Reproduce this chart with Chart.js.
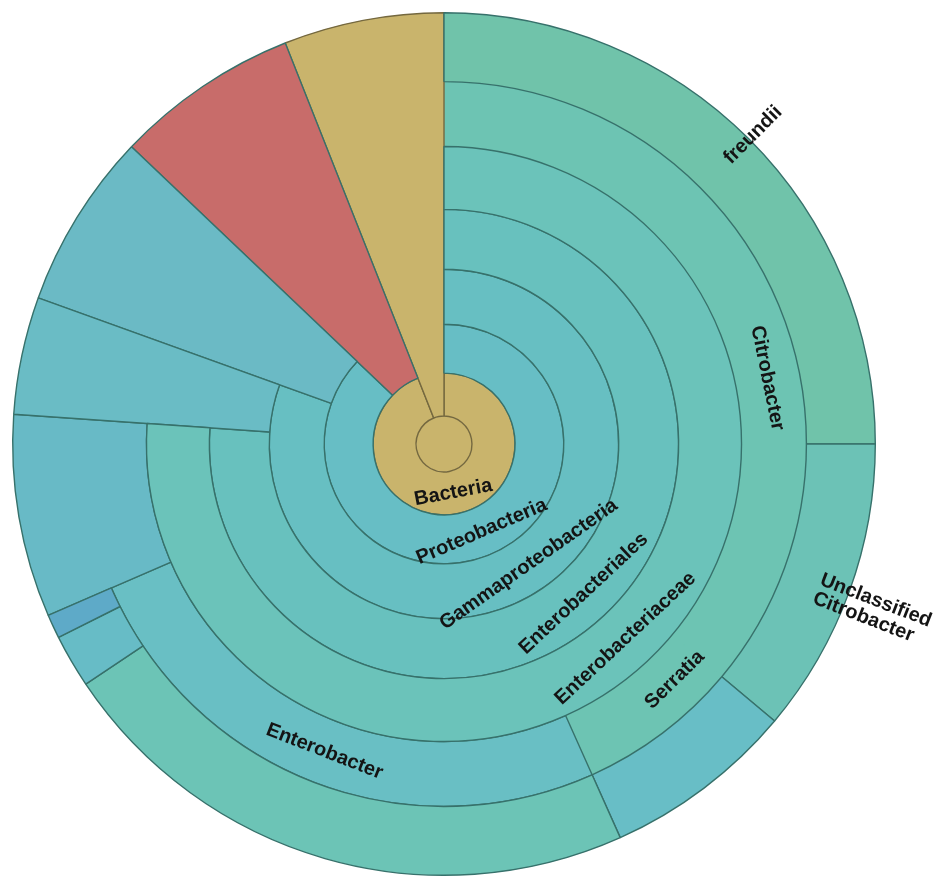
<!DOCTYPE html>
<html>
<head>
<meta charset="utf-8">
<title>Taxonomic composition</title>
<script src="https://cdn.jsdelivr.net/npm/chart.js@4.4.1/dist/chart.umd.min.js"></script>
<style>
  html, body { margin: 0; padding: 0; background: #fff; }
  canvas { display: block; }
</style>
</head>
<body>
<canvas id="sunburst" width="941" height="879"></canvas>
<script>
// Share of reads (%) per taxon, one list per rank. Children are listed first and
// in their parents' order; what a rank leaves over stays open, so a leaf from the
// rank inside it can run straight through to the rim.
const rootNames = ['Root'];
const rootValues = [100];
const kingdomNames = ['Bacteria', 'Unassigned'];
const kingdomValues = [94.0, 6.0];
const phylumNames = ['Proteobacteria', 'Other phyla'];
const phylumValues = [87.1, 6.9];
const classNames = ['Gammaproteobacteria', 'Other Proteobacteria'];
const classValues = [80.5, 6.6];
const orderNames = ['Enterobacteriales', 'Other Gammaproteobacteria'];
const orderValues = [76.1, 4.4];
const familyNames = ['Enterobacteriaceae'];
const familyValues = [76.1];
const genusNames = ['Citrobacter', 'Serratia', 'Enterobacter', 'Other Enterobacteriaceae'];
const genusValues = [36.1, 7.2, 25.2, 7.6];
const speciesNames = ['freundii', 'Unclassified Citrobacter', 'Serratia sp.', 'Enterobacter sp.', 'Enterobacter sp. B', 'Enterobacter sp. C'];
const speciesValues = [25.0, 11.1, 7.2, 22.3, 2.0, 0.9];

// names printed on the wheel
const shownNames = ['Bacteria', 'Proteobacteria', 'Gammaproteobacteria', 'Enterobacteriales',
  'Enterobacteriaceae', 'Citrobacter', 'Serratia', 'Enterobacter', 'freundii', 'Unclassified Citrobacter'];

// ---- styling ----
const TAN = '#c9b46c';
const fills = {
  'Root': TAN, 'Bacteria': TAN, 'Unassigned': TAN,
  'Proteobacteria': '#67bec5', 'Other phyla': '#c86c6a',
  'Gammaproteobacteria': '#67bfc2', 'Other Proteobacteria': '#6bbac5',
  'Enterobacteriales': '#68c1be', 'Other Gammaproteobacteria': '#6abcc5',
  'Enterobacteriaceae': '#6bc3ba',
  'Citrobacter': '#6dc4b3', 'Serratia': '#6dc4b3', 'Enterobacter': '#69bfc4', 'Other Enterobacteriaceae': '#68bac6',
  'freundii': '#70c3aa', 'Unclassified Citrobacter': '#6cc2b6', 'Serratia sp.': '#68bec6',
  'Enterobacter sp.': '#6cc4b6', 'Enterobacter sp. B': '#67bcc6', 'Enterobacter sp. C': '#5eaac8'
};
const tanEdge = '#74683f';
const tealEdge = '#37716b';
const edgeWidth = 1.4;
// genus cells whose outline is painted in their own fill, so no divider shows between them
const openCells = ['Citrobacter', 'Serratia'];
// ring thickness in px, rim first
const ringWidths = [69, 65, 63, 60, 55, 49, 43, 28];

const ranks = [
  [speciesNames, speciesValues],
  [genusNames, genusValues],
  [familyNames, familyValues],
  [orderNames, orderValues],
  [classNames, classValues],
  [phylumNames, phylumValues],
  [kingdomNames, kingdomValues],
  [rootNames, rootValues]
];

const total = rootValues[0];
const sum = arr => arr.reduce((a, b) => a + b, 0);

function edgeFor(name) {
  if (openCells.includes(name)) return fills[name];
  return fills[name] === TAN ? tanEdge : tealEdge;
}

const datasets = ranks.map(([names, values], i) => {
  const reach = sum(values);
  const isRoot = names === rootNames;
  return {
    data: [...values, Math.max(total - reach, 0)],
    names: [...names, null],
    reach,
    weight: ringWidths[i],
    // the genus ring goes down first so the family/species outlines sit on top of it
    order: names === genusNames ? 1 : 0,
    backgroundColor: [...names.map(n => fills[n]), 'rgba(0,0,0,0)'],
    borderColor: [...names.map(edgeFor), 'rgba(0,0,0,0)'],
    borderWidth: [...names.map(() => (isRoot ? 0 : edgeWidth)), 0]
  };
});

// A taxon with nothing below it is stretched out to the rim.
const leafToRim = {
  id: 'leafToRim',
  beforeDatasetsDraw(chart) {
    const rim = chart.getDatasetMeta(0).controller.outerRadius;
    const sets = chart.data.datasets;
    sets.forEach((ds, k) => {
      if (k === 0) return;
      const below = sets[k - 1].reach;
      const arcs = chart.getDatasetMeta(k).data;
      let start = 0;
      ds.data.forEach((v, j) => {
        if (ds.names[j] && start >= below - 0.01) arcs[j].outerRadius = rim;
        start += v;
      });
    });
  }
};

const taxonLabels = {
  id: 'taxonLabels',
  afterDatasetsDraw(chart, args, opts) {
    const ctx = chart.ctx;
    chart.data.datasets.forEach((ds, k) => {
      const meta = chart.getDatasetMeta(k);
      const band = meta.controller;
      meta.data.forEach((arc, j) => {
        const name = ds.names[j];
        if (!shownNames.includes(name)) return;
        const mid = (arc.startAngle + arc.endAngle) / 2 + (opts.nudge[name] || 0) * Math.PI / 180;
        let theta = (mid + Math.PI / 2) % (2 * Math.PI);
        if (theta < 0) theta += 2 * Math.PI;

        ctx.save();
        ctx.font = opts.font;
        ctx.fillStyle = opts.color;
        ctx.textBaseline = 'middle';
        if (k === 0) {
          // rim labels run outward from just inside the edge
          const r = band.outerRadius - opts.rimInset;
          ctx.translate(arc.x + r * Math.cos(mid), arc.y + r * Math.sin(mid));
          const right = theta <= Math.PI;
          ctx.rotate(right ? mid : mid + Math.PI);
          ctx.textAlign = right ? 'left' : 'right';
          const lines = name.split(' ');
          lines.forEach((line, i) => {
            ctx.fillText(line, 0, (i - (lines.length - 1) / 2) * opts.lineGap);
          });
        } else {
          const r = (band.innerRadius + band.outerRadius) / 2;
          ctx.translate(arc.x + r * Math.cos(mid), arc.y + r * Math.sin(mid));
          const upper = theta < Math.PI / 2 || theta > 1.5 * Math.PI;
          ctx.rotate(upper ? theta : theta - Math.PI);
          ctx.textAlign = 'center';
          ctx.fillText(name, 0, 0);
        }
        ctx.restore();
      });
    });
  }
};

new Chart(document.getElementById('sunburst'), {
  type: 'doughnut',
  data: { datasets },
  options: {
    responsive: false,
    animation: false,
    events: [],
    cutout: 0,
    layout: { padding: { left: 12, top: 12, right: 65, bottom: 3 } },
    plugins: {
      legend: { display: false },
      tooltip: { enabled: false },
      taxonLabels: {
        font: 'bold 20px "Liberation Sans", Arial, sans-serif',
        color: '#141414',
        rimInset: 31,
        lineGap: 20,
        nudge: { Citrobacter: 13.5, Serratia: -7.3, 'Unclassified Citrobacter': 1.2 }
      }
    }
  },
  plugins: [leafToRim, taxonLabels]
});
</script>
</body>
</html>
